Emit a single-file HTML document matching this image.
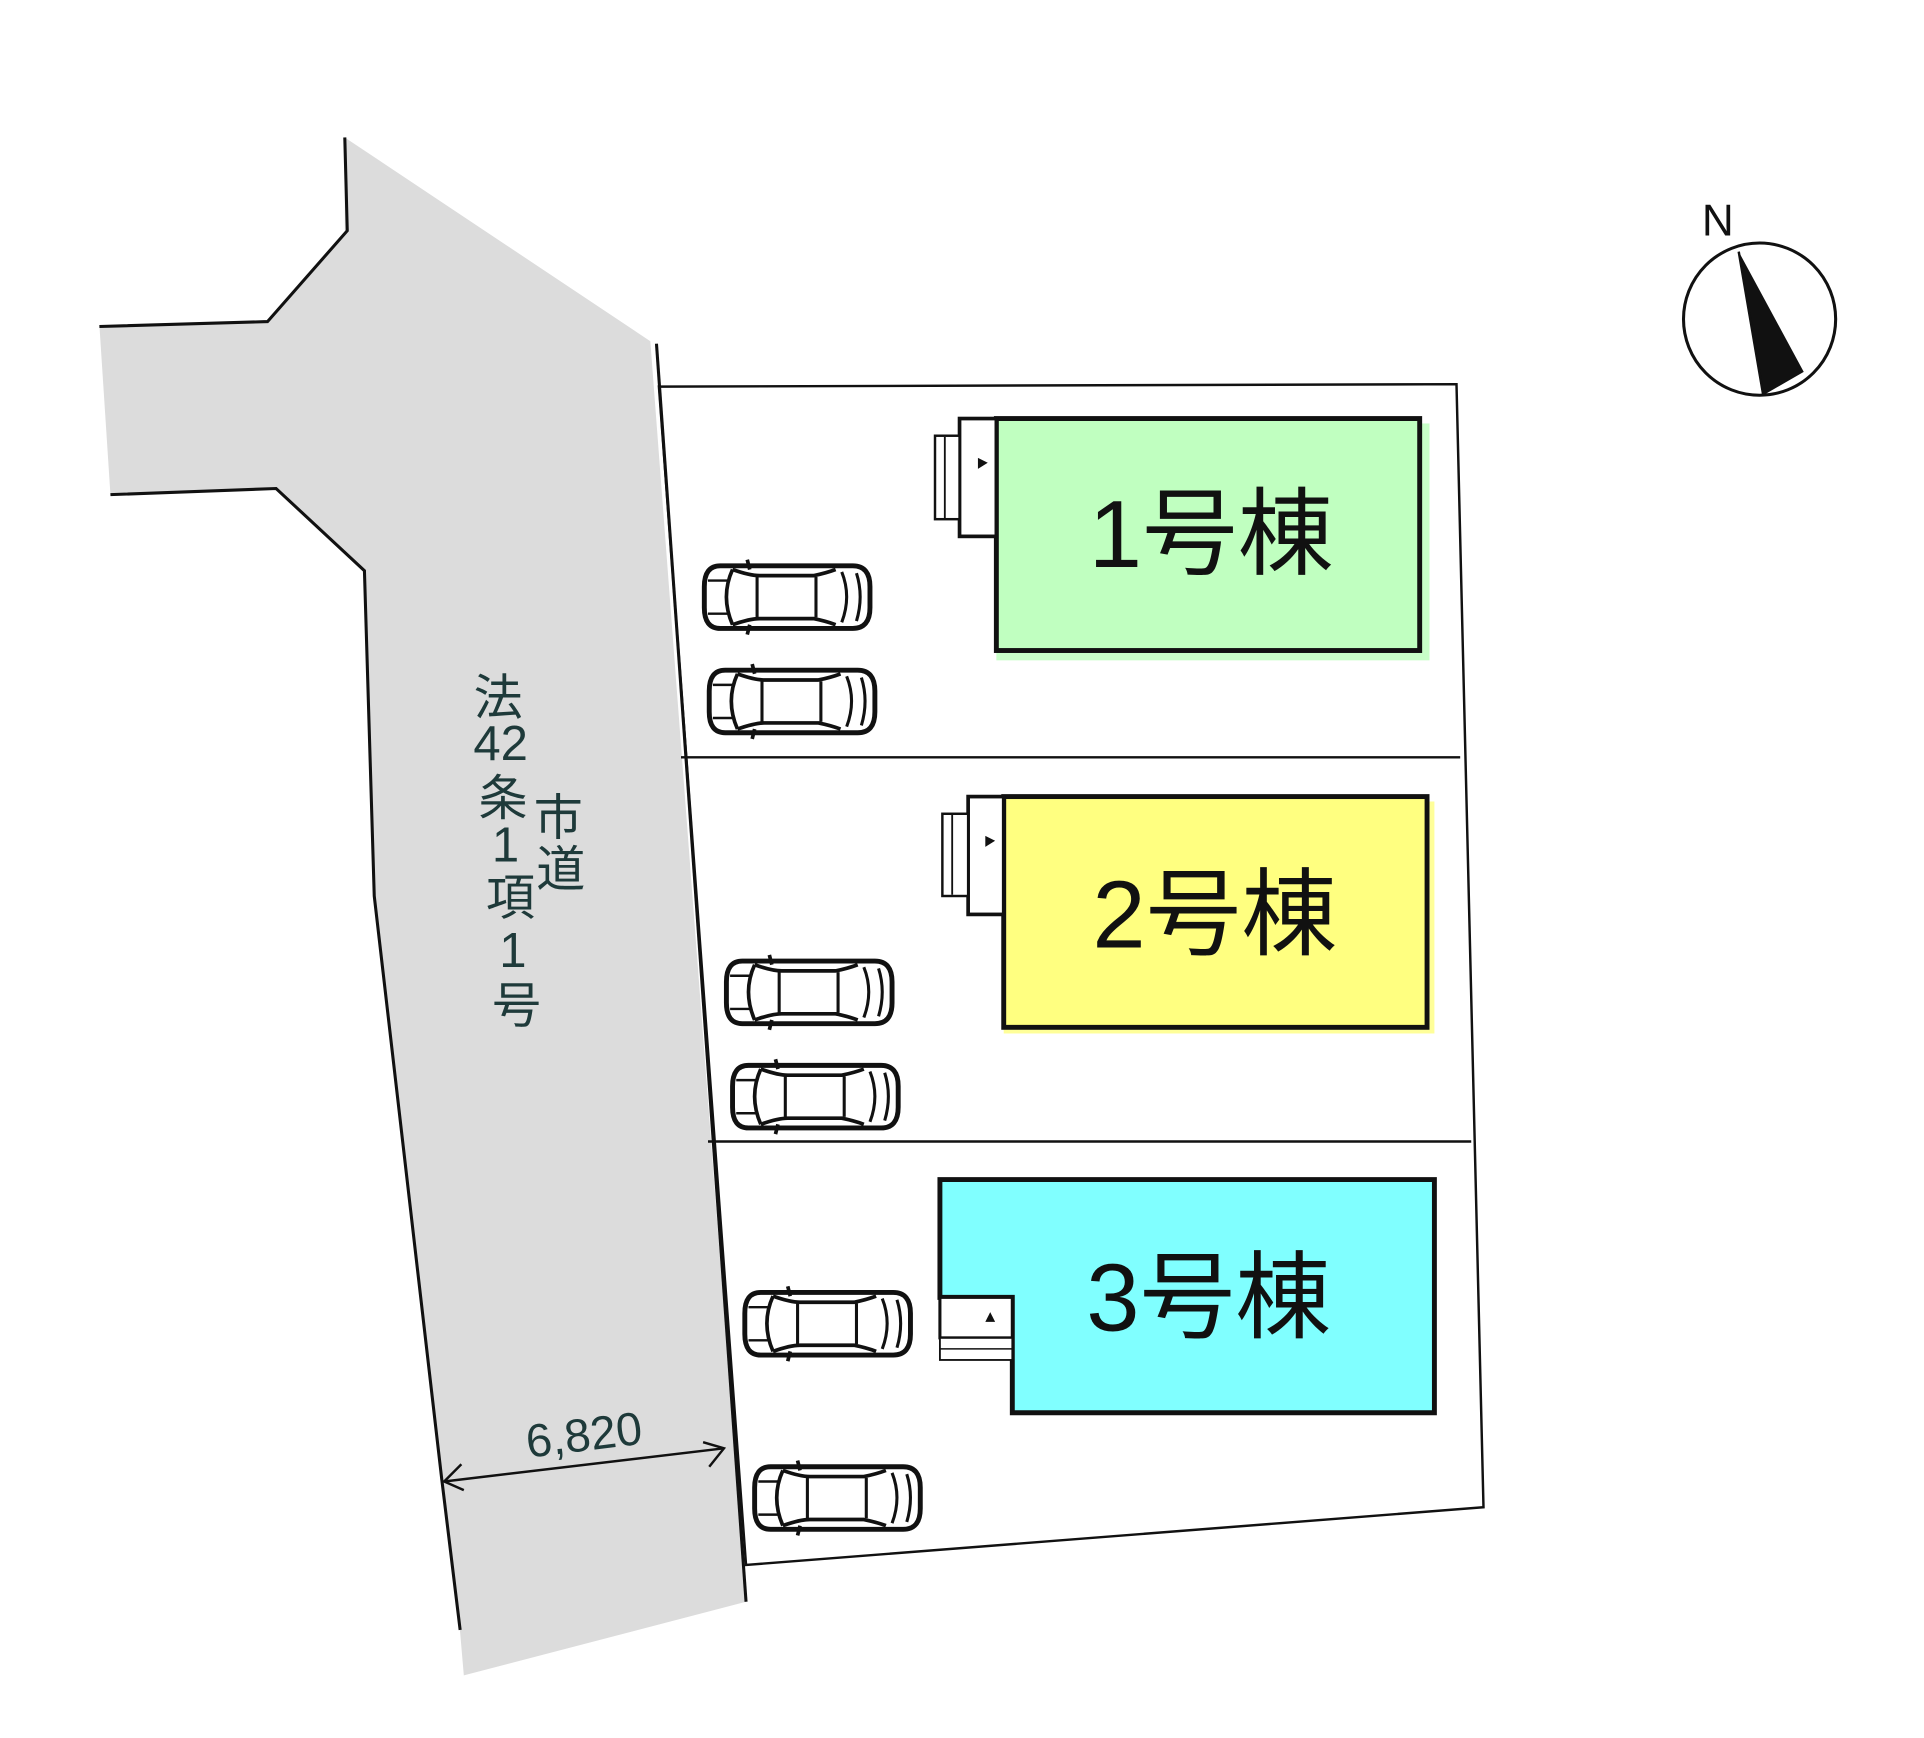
<!DOCTYPE html>
<html><head><meta charset="utf-8"><style>
html,body{margin:0;padding:0;background:#fff;}
svg{display:block;}
text{font-family:"Liberation Sans","Noto Sans CJK JP",sans-serif;}
</style></head><body>
<svg width="1924" height="1738" viewBox="0 0 1568 1416" preserveAspectRatio="none" xmlns="http://www.w3.org/2000/svg">
<defs>
<g id="car" fill="none" stroke="#111" stroke-linejoin="round">
<path d="M14,3 H122 Q136,3 136,20 V37 Q136,54 122,54 H14 Q1,54 1,37 V20 Q1,3 14,3 Z" stroke-width="4" fill="#fff"/>
<path d="M24,6 Q14,28 24,51" stroke-width="3"/>
<path d="M24,6 Q38,11 46,11 H90 Q100,9 108,6" stroke-width="3"/>
<path d="M24,51 Q38,46 46,46 H90 Q100,48 108,51" stroke-width="3"/>
<path d="M44,12 V45 M92,12 V45" stroke-width="2.5"/>
<path d="M113,8 Q121,28 113,49 M125,9 Q131,28 125,48" stroke-width="2.5"/>
<path d="M4,15 H20 M4,42 H20" stroke-width="2"/>
<path d="M36,-2 L38,6 M36,59 L38,51" stroke-width="3"/>
</g>
</defs>
<polygon points="281,112 530,278 608,1305 378,1365 375,1330 360,1205 305,730 297,465 225,398 90,403 81,265 218,262 281,190" fill="#dcdcdc"/>
<polyline points="281,112 283,188 218,262 81,266" fill="none" stroke="#111" stroke-width="2.5"/>
<polyline points="90,403 225,398 297,465 305,730 360,1205 375,1328" fill="none" stroke="#111" stroke-width="2.5"/>
<polygon points="537,315 1187,313 1209,1228 608,1275" fill="#fff" stroke="#111" stroke-width="2"/>
<line x1="535" y1="280" x2="608" y2="1305" stroke="#111" stroke-width="2.5"/>
<line x1="555" y1="617" x2="1190" y2="617" stroke="#111" stroke-width="2"/>
<line x1="577" y1="930" x2="1199" y2="930" stroke="#111" stroke-width="2"/>
<rect x="812" y="345" width="353" height="193" fill="#c8ffc8"/>
<rect x="812" y="341" width="345" height="189" fill="#c0ffc0" stroke="#111" stroke-width="4"/>
<rect x="782" y="341" width="30" height="96" fill="#fff" stroke="#111" stroke-width="3"/>
<rect x="762" y="355" width="20" height="68" fill="#fff" stroke="#111" stroke-width="2"/>
<line x1="770" y1="356" x2="770" y2="422" stroke="#111" stroke-width="1.5"/>
<polygon points="797,373 805,377 797,382" fill="#111"/>
<text x="987" y="462" font-size="78" text-anchor="middle" fill="#111">1号棟</text>
<rect x="818" y="653" width="351" height="189" fill="#ffff99"/>
<rect x="818" y="649" width="345" height="188" fill="#ffff80" stroke="#111" stroke-width="4"/>
<rect x="789" y="649" width="29" height="96" fill="#fff" stroke="#111" stroke-width="3"/>
<rect x="768" y="663" width="21" height="67" fill="#fff" stroke="#111" stroke-width="2"/>
<line x1="776" y1="664" x2="776" y2="729" stroke="#111" stroke-width="1.5"/>
<polygon points="803,681 811,685 803,690" fill="#111"/>
<text x="990" y="772" font-size="78" text-anchor="middle" fill="#111">2号棟</text>
<polygon points="766,961 1169,961 1169,1151 825,1151 825,1057 766,1057" fill="#80ffff" stroke="#111" stroke-width="4"/>
<rect x="766" y="1057" width="59" height="33" fill="#fff" stroke="#111" stroke-width="2.5"/>
<rect x="766" y="1090" width="59" height="18" fill="#fff" stroke="#111" stroke-width="1.5"/>
<line x1="766" y1="1099" x2="825" y2="1099" stroke="#111" stroke-width="1.2"/>
<polygon points="803,1077 807,1069 811,1077" fill="#111"/>
<text x="985" y="1084" font-size="78" text-anchor="middle" fill="#111">3号棟</text>
<use href="#car" x="573" y="458"/>
<use href="#car" x="577" y="543"/>
<use href="#car" x="591" y="780"/>
<use href="#car" x="596" y="865"/>
<use href="#car" x="606" y="1050"/>
<use href="#car" x="614" y="1192"/>
<g font-size="40" fill="#1e3a3a" text-anchor="middle">
<text x="406" y="582">法</text>
<text x="408" y="619">42</text>
<text x="410" y="664">条</text>
<text x="412" y="702">1</text>
<text x="416" y="745">項</text>
<text x="418" y="788">1</text>
<text x="421" y="833">号</text>
<text x="455" y="680">市</text>
<text x="457" y="722">道</text>
</g>
<line x1="362" y1="1207" x2="590" y2="1180" stroke="#111" stroke-width="2"/>
<polyline points="376,1193 362,1207 378,1214" fill="none" stroke="#111" stroke-width="2"/>
<polyline points="573,1175 590,1180 578,1195" fill="none" stroke="#111" stroke-width="2"/>
<text x="476" y="1182" font-size="38" text-anchor="middle" fill="#1e3a3a" transform="rotate(-7 476 1170)">6,820</text>
<circle cx="1434" cy="260" r="62" fill="none" stroke="#111" stroke-width="2.5"/>
<text x="1400" y="192" font-size="36" text-anchor="middle" fill="#111">N</text>
<polygon points="1417,205 1470,303 1437,322" fill="#111"/>
<line x1="1417" y1="205" x2="1437" y2="322" stroke="#111" stroke-width="2"/>
</svg>
</body></html>
